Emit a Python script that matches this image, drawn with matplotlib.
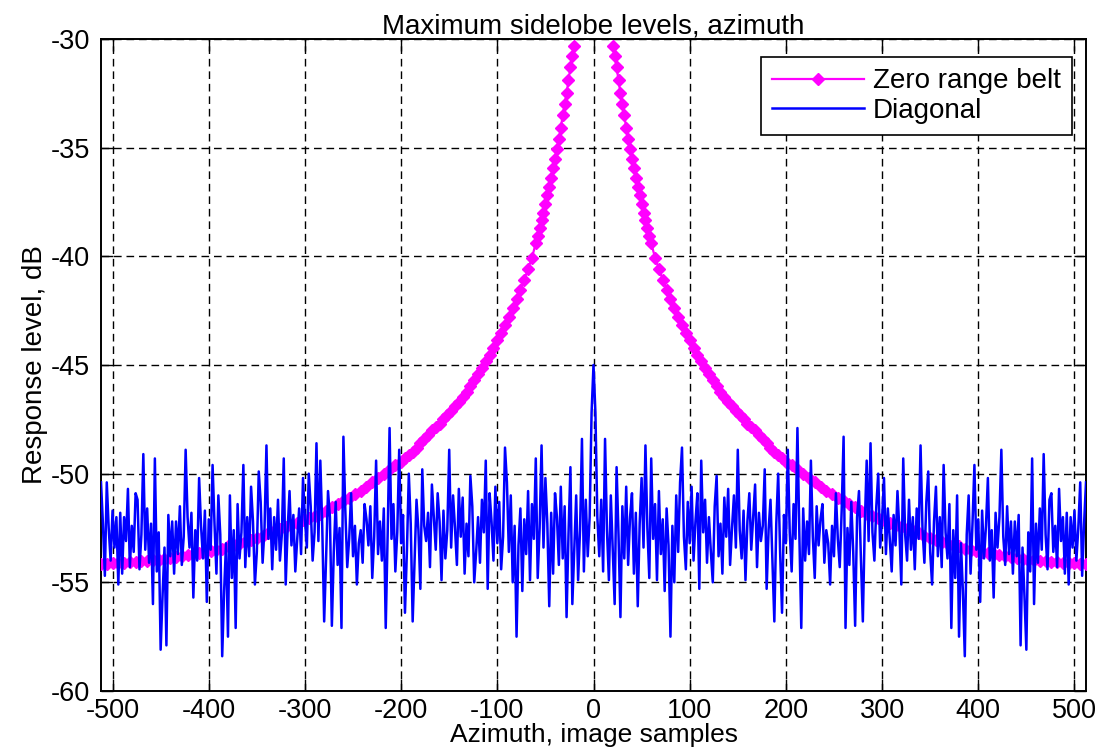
import numpy as np
import matplotlib
matplotlib.use("Agg")
import matplotlib.pyplot as plt

# fonts - narrow sans to get close to the tall matlab look
plt.rcParams['font.family'] = ['Liberation Sans Narrow', 'Liberation Sans', 'DejaVu Sans']
plt.rcParams['axes.unicode_minus'] = False

# zero range belt, right half (curve is symmetric about 0)
beltX = [20, 22, 24, 26, 28, 30, 32, 34, 36, 38, 40, 42, 44, 46, 48, 50, 52, 54, 56, 58, 60,
         64, 68, 72, 76, 80, 84, 88, 92, 96, 100, 104, 108, 112, 116, 120, 124, 128, 132,
         136, 140, 144, 148, 152, 156, 160, 164, 168, 172, 176, 180, 184, 188, 192, 196, 200,
         206, 212, 218, 224, 230, 236, 242, 248, 254, 260, 266, 272, 278, 284, 290, 296,
         302, 308, 314, 320, 326, 332, 338, 344, 350, 356, 362, 368, 374, 380, 386, 392,
         398, 404, 410, 416, 422, 428, 434, 440, 446, 452, 458, 464, 470, 476, 482, 488,
         494, 500, 506, 512]
beltDb = [-30.3, -30.8, -31.3, -31.9, -32.5, -33.0, -33.5, -34.1, -34.6, -35.05, -35.5,
          -35.95, -36.4, -36.8, -37.2, -37.6, -38.0, -38.35, -38.7, -39.05, -39.4,
          -40.06, -40.58, -41.07, -41.53, -41.96, -42.38, -42.77, -43.15, -43.51, -43.86,
          -44.2, -44.52, -44.82, -45.12, -45.41, -45.69, -45.96, -46.22,
          -46.45, -46.68, -46.9, -47.1, -47.3, -47.5, -47.7, -47.85, -48.0, -48.2, -48.4,
          -48.6, -48.8, -49.0, -49.15, -49.3, -49.45,
          -49.6, -49.8, -50.0, -50.2, -50.4, -50.6, -50.8, -50.95, -51.1, -51.25, -51.4,
          -51.55, -51.7, -51.85, -51.95, -52.05, -52.15, -52.25, -52.35, -52.45, -52.55,
          -52.65, -52.75, -52.85, -52.95, -53.05, -53.15, -53.2, -53.3, -53.35, -53.45,
          -53.5, -53.55, -53.6, -53.65, -53.7, -53.75, -53.8, -53.85, -53.9, -53.92,
          -53.95, -53.98, -54.0, -54.03, -54.05, -54.08, -54.1, -54.12, -54.13, -54.14, -54.15]

# diagonal cut, right half at every 2nd sample starting from 0 (also symmetric)
diagStep = 2
diagDb = [
    -45.0, -47.2, -52.0, -53.8, -51.2, -54.5, -48.4, -52.6, -54.9, -51.0,
    -53.5, -56.0, -49.7, -52.8, -56.6, -51.5, -53.9, -50.6, -54.2, -52.0,
    -50.9, -54.6, -51.8, -56.1, -52.3, -50.2, -53.4, -48.7, -52.5, -54.8,
    -49.3, -53.0, -51.4, -54.9, -50.8, -53.7, -52.1, -55.4, -51.6, -53.3,
    -57.5, -52.4, -55.0, -51.0, -53.6, -50.4, -48.8, -52.9, -54.4, -51.3,
    -53.2, -50.6, -54.0, -52.2, -50.9, -55.3, -49.4, -52.7, -51.2, -54.1,
    -52.0, -53.6, -55.0, -51.5, -50.1, -53.8, -52.3, -54.6, -51.1, -52.9,
    -50.7, -54.2, -52.5, -51.0, -53.4, -48.9, -52.6, -53.9, -51.7, -54.9,
    -52.2, -50.9, -53.5, -52.0, -50.5, -54.3, -51.8, -53.1, -52.4, -49.8,
    -55.3, -52.6, -51.2, -54.0, -56.8, -52.3, -50.0, -53.6, -56.4, -51.9,
    -53.2, -48.9, -52.7, -54.5, -51.4, -53.0, -47.9, -52.8, -57.1, -51.6,
    -54.0, -52.2, -53.7, -49.4, -52.9, -54.8, -51.5, -53.3, -52.1, -51.4,
    -54.1, -52.6, -53.2, -55.1, -52.4, -53.8, -50.9, -53.0, -54.3, -51.7,
    -48.3, -57.1, -52.5, -54.2, -51.3, -53.6, -57.0, -52.0, -50.8, -53.9,
    -56.8, -52.4, -49.4, -53.1, -48.6, -52.7, -54.0, -51.5, -50.0, -53.4,
    -52.1, -50.2, -53.7, -51.6, -53.0, -54.5, -51.9, -53.3, -50.8, -52.6,
    -55.1, -49.3, -52.8, -54.0, -51.2, -53.5, -52.0, -54.4, -51.6, -53.0,
    -48.7, -52.5, -54.1, -51.3, -49.9, -53.6, -55.1, -52.2, -50.6, -53.8,
    -52.0, -54.3, -49.6, -52.7, -53.9, -51.4, -57.1, -52.6, -54.8, -51.0,
    -57.5, -53.2, -55.4, -58.4, -52.8, -51.0, -54.6, -52.3, -49.6, -53.5,
    -52.1, -55.9, -51.7, -53.9, -52.4, -50.2, -54.0, -52.6, -55.7, -51.8,
    -53.4, -52.0, -48.9, -52.9, -54.2, -51.5, -53.7, -52.2, -54.6, -52.2,
    -53.8, -51.9, -57.9, -53.4, -55.6, -58.1, -52.7, -54.5, -49.3, -56.0,
    -52.3, -54.1, -51.6, -53.5, -49.1, -52.8, -54.4, -51.2, -50.9, -53.6,
    -52.4, -54.3, -50.7, -53.1, -52.0, -54.6, -51.8, -55.1, -52.0, -53.4,
    -51.7, -54.0, -52.5, -50.4, -54.7, -52.3, -50.4,
]

xTicks = [-500, -400, -300, -200, -100, 0, 100, 200, 300, 400, 500]
yTicks = [-60, -55, -50, -45, -40, -35, -30]

# mirror the halves to full curves, NaN gap so the two lobes are not joined
bx = np.array(beltX, dtype=float)
by = np.array(beltDb)
beltFullX = np.concatenate([-bx[::-1], [np.nan], bx])
beltFullY = np.concatenate([by[::-1], [np.nan], by])

dx = np.arange(len(diagDb)) * diagStep
dy = np.array(diagDb)
diagFullX = np.concatenate([-dx[::-1], dx[1:]])
diagFullY = np.concatenate([dy[::-1], dy[1:]])

fig = plt.figure(figsize=(10.98, 7.49), dpi=100)
ax = fig.add_axes([101/1098, 1 - 691/749, 985/1098, 652/749])

fs = 20
ax.plot(beltFullX, beltFullY, color='#ff00ff', lw=1.6, marker='D', ms=5.8,
        mec='#ff00ff', mfc='#ff00ff', label='Zero range belt', zorder=3)
ax.plot(diagFullX, diagFullY, color='#0000ff', lw=1.8, label='Diagonal', zorder=4)

ax.set_xlim(-512, 512)
ax.set_ylim(-60, -30)
ax.set_xticks(xTicks)
ax.set_yticks(yTicks)
ax.tick_params(direction='in', length=8.5, width=1, top=True, right=True,
               labelsize=19.5, colors='black')
ax.tick_params(axis='x', pad=5)
ax.tick_params(axis='y', pad=8)
ax.grid(True, color='black', linestyle=(0, (5.5, 3.5)), linewidth=1.0)
for s in ax.spines.values():
    s.set_linewidth(1.4)
    s.set_color('black')

ax.set_title('Maximum sidelobe levels, azimuth', fontsize=fs, pad=4)
ax.set_xlabel('Azimuth, image samples', fontsize=19, labelpad=-1)
ax.set_ylabel('Response level, dB', fontsize=fs, labelpad=2)

leg = ax.legend(loc='upper right', bbox_to_anchor=(0.986, 0.972), borderaxespad=0,
                fontsize=fs, numpoints=1, fancybox=False, framealpha=1,
                edgecolor='black', handlelength=3.3, handletextpad=0.35,
                labelspacing=0.12, borderpad=0.4)
leg.get_frame().set_linewidth(1.2)

fig.savefig('out.png', dpi=100)
